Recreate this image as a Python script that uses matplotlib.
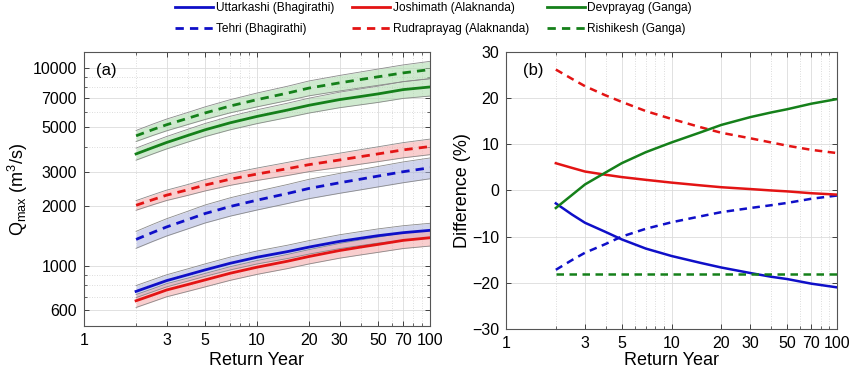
import matplotlib
matplotlib.use('Agg')
import matplotlib.pyplot as plt
from matplotlib.ticker import FixedLocator, FixedFormatter, NullFormatter
import numpy as np

plt.rcParams['font.family'] = ['Liberation Sans', 'DejaVu Sans']

# return periods the curves were read at
T = [2, 2.5, 3, 4, 5, 7, 10, 15, 20, 30, 40, 50, 70, 100]

# (a) Qmax, m3/s
q_uttarkashi = [747, 800, 846, 907, 958, 1035, 1110, 1185, 1249, 1334, 1385, 1425, 1476, 1517]
q_tehri = [1365, 1480, 1577, 1720, 1842, 2000, 2152, 2325, 2466, 2633, 2750, 2845, 2994, 3135]
q_joshimath = [670, 717, 759, 810, 853, 922, 989, 1060, 1120, 1200, 1250, 1288, 1350, 1392]
q_rudraprayag = [2028, 2165, 2280, 2430, 2563, 2745, 2914, 3100, 3250, 3430, 3570, 3680, 3856, 4010]
q_devprayag = [3680, 3960, 4200, 4565, 4865, 5280, 5685, 6120, 6470, 6910, 7170, 7380, 7760, 8000]
q_rishikesh = [4540, 4880, 5160, 5570, 5915, 6415, 6905, 7450, 7900, 8390, 8730, 9000, 9420, 9790]

# half width of the shaded band, % of Qmax
band_uttarkashi = [7.0, 7.0, 7.0, 7.1, 7.2, 7.4, 7.5, 7.7, 7.8, 8.0, 8.1, 8.2, 8.4, 8.5]
band_tehri = [9.8, 9.9, 10.0, 10.2, 10.4, 10.6, 10.8, 11.0, 11.2, 11.5, 11.7, 11.8, 12.0, 12.0]
band_joshimath = [7.5, 7.5, 7.6, 7.7, 7.8, 7.9, 8.0, 8.2, 8.3, 8.5, 8.7, 8.8, 9.0, 9.2]
band_rudraprayag = [5.6, 5.8, 6.0, 6.3, 6.6, 6.9, 7.2, 7.6, 7.8, 8.2, 8.4, 8.6, 8.8, 9.0]
band_devprayag = [7.0, 7.1, 7.2, 7.4, 7.6, 7.8, 8.0, 8.3, 8.6, 9.0, 9.2, 9.4, 9.7, 10.0]
band_rishikesh = [6.4, 6.6, 6.8, 7.0, 7.3, 7.6, 8.0, 8.3, 8.6, 9.0, 9.2, 9.4, 9.7, 10.0]

# (b) difference, %
d_uttarkashi = [-2.8, -5.2, -7.0, -9.0, -10.6, -12.6, -14.2, -15.7, -16.7, -17.9, -18.7, -19.2, -20.2, -21.0]
d_tehri = [-17.2, -15.1, -13.5, -11.6, -10.0, -8.3, -6.9, -5.6, -4.7, -3.8, -3.2, -2.7, -1.8, -1.1]
d_joshimath = [5.9, 4.9, 4.1, 3.4, 2.9, 2.3, 1.7, 1.1, 0.7, 0.3, 0.0, -0.2, -0.6, -0.9]
d_rudraprayag = [26.2, 24.2, 22.6, 20.6, 19.2, 17.2, 15.5, 13.7, 12.5, 11.3, 10.4, 9.7, 8.8, 8.1]
d_devprayag = [-3.8, -1.0, 1.3, 3.9, 5.9, 8.3, 10.4, 12.6, 14.2, 15.9, 16.9, 17.6, 18.8, 19.8]
d_rishikesh = [-18] * 14

names = ['Uttarkashi (Bhagirathi)', 'Tehri (Bhagirathi)', 'Joshimath (Alaknanda)',
         'Rudraprayag (Alaknanda)', 'Devprayag (Ganga)', 'Rishikesh (Ganga)']
qs = [q_uttarkashi, q_tehri, q_joshimath, q_rudraprayag, q_devprayag, q_rishikesh]
bands = [band_uttarkashi, band_tehri, band_joshimath, band_rudraprayag, band_devprayag, band_rishikesh]
ds = [d_uttarkashi, d_tehri, d_joshimath, d_rudraprayag, d_devprayag, d_rishikesh]

blue = '#0f0fc8'
red = '#e31414'
green = '#15801a'
colors = [blue, blue, red, red, green, green]
fills = ['#aab2dd', '#aab2dd', '#f5a6a6', '#f5a6a6', '#a9d9a9', '#a9d9a9']
dashed = [False, True, False, True, False, True]

xticks = [1, 3, 5, 10, 20, 30, 50, 70, 100]
axcol = '#262626'

fig = plt.figure(figsize=(8.5, 3.71), dpi=100)
ax1 = fig.add_axes([0.0988, 0.1213, 0.4071, 0.7385])
ax2 = fig.add_axes([0.5953, 0.1135, 0.3894, 0.7463])


def style_axes(ax, lpad):
    ax.set_xscale('log')
    ax.set_xlim(1, 100)
    ax.xaxis.set_major_locator(FixedLocator(xticks))
    ax.xaxis.set_major_formatter(FixedFormatter([str(v) for v in xticks]))
    ax.xaxis.set_minor_locator(FixedLocator([2, 4, 6, 7, 8, 9, 40, 60, 80, 90]))
    ax.xaxis.set_minor_formatter(NullFormatter())
    ax.tick_params(which='both', direction='in', top=True, right=True, colors=axcol,
                   labelsize=11.5, labelcolor='black')
    ax.tick_params(which='major', length=3.5, width=0.6, pad=5)
    ax.tick_params(which='minor', length=2, width=0.5)
    ax.grid(True, which='major', color='#dcdcdc', lw=0.6, ls='-')
    ax.grid(True, which='minor', color='#d0d0d0', lw=0.6, ls=(0, (1, 2)))
    ax.set_axisbelow(True)
    for s in ax.spines.values():
        s.set_color('#555555')
        s.set_linewidth(0.8)
    ax.set_xlabel('Return Year', fontsize=13, labelpad=lpad)


style_axes(ax1, 3)
style_axes(ax2, 1)

handles = []
for name, q, b, c, f, dsh in zip(names, qs, bands, colors, fills, dashed):
    q = np.array(q, dtype=float)
    b = np.array(b) / 100.0
    lo = q * (1 - b)
    hi = q * (1 + b)
    ax1.fill_between(T, lo, hi, color=f, alpha=0.55, lw=0, zorder=2)
    ax1.plot(T, lo, color='#8a8a8a', lw=0.6, zorder=3)
    ax1.plot(T, hi, color='#8a8a8a', lw=0.6, zorder=3)
    ln, = ax1.plot(T, q, color=c, lw=2.0, zorder=4, label=name)
    if dsh:
        ln.set_dashes((3, 2.2))
    handles.append(ln)

for d, c, dsh in zip(ds, colors, dashed):
    ln, = ax2.plot(T, d, color=c, lw=1.8, zorder=4)
    if dsh:
        ln.set_dashes((3, 2.2))

ax1.set_yscale('log')
ax1.set_ylim(500, 12000)
yt = [600, 1000, 2000, 3000, 5000, 7000, 10000]
ax1.yaxis.set_major_locator(FixedLocator(yt))
ax1.yaxis.set_major_formatter(FixedFormatter([str(v) for v in yt]))
ax1.yaxis.set_minor_locator(FixedLocator([500, 700, 800, 900, 4000, 6000, 8000, 9000]))
ax1.yaxis.set_minor_formatter(NullFormatter())
ax1.set_ylabel(r'Q$_{\mathregular{max}}$ (m$^{\mathregular{3}}$/s)', fontsize=13, labelpad=2)
ax1.text(0.035, 0.96, '(a)', transform=ax1.transAxes, fontsize=12, va='top', ha='left')

ax2.set_ylim(-30, 30)
ax2.set_yticks([-30, -20, -10, 0, 10, 20, 30])
ax2.set_ylabel('Difference (%)', fontsize=13, labelpad=1)
ax2.text(0.05, 0.96, '(b)', transform=ax2.transAxes, fontsize=12, va='top', ha='left')

fig.legend(handles=handles, labels=names, ncol=3, loc='upper center',
           bbox_to_anchor=(0.51, 1.0), frameon=False, fontsize=8.6,
           handlelength=3.2, handletextpad=0.2, columnspacing=1.5,
           labelspacing=0.7, borderpad=0.1, borderaxespad=0.1)

fig.savefig('out.png', dpi=100)
